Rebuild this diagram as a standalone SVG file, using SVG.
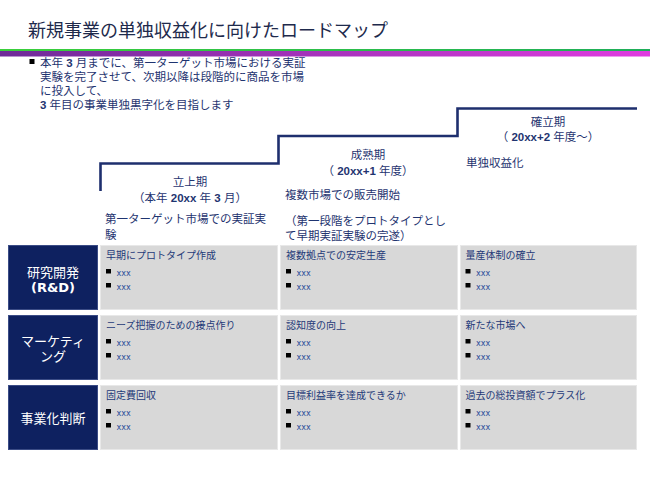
<svg xmlns="http://www.w3.org/2000/svg" width="650" height="487" viewBox="0 0 650 487">
<defs>
<linearGradient id="purp" x1="0" y1="0" x2="1" y2="0">
<stop offset="0" stop-color="#6e2a98"/>
<stop offset="1" stop-color="#e03ce0"/>
</linearGradient>
<linearGradient id="grn" x1="0" y1="0" x2="1" y2="0">
<stop offset="0" stop-color="#3ad03a"/>
<stop offset="1" stop-color="#1fae5a"/>
</linearGradient>
</defs>
<style>
text{font-family:"Liberation Sans","Noto Sans CJK JP",sans-serif;}
.title{font-size:18px;fill:#1e2a4c;}
.body{font-size:11.5px;fill:#1f3470;}
.stage{font-size:11.5px;fill:#1f3470;}
.lbl{fill:#0e2160;stroke:#3b4c86;stroke-width:1;}
.lbt{font-size:13px;fill:#ffffff;text-anchor:middle;}
.rd{font-family:"DejaVu Sans",sans-serif;font-weight:bold;}
.cell{fill:#d8d8d8;stroke:#e8e8e8;stroke-width:1;}
.hd{font-size:10px;fill:#1f3a78;}
.xx{font-size:8px;fill:#2a4d9a;font-family:"DejaVu Sans",sans-serif;}
.sq{fill:#000000;}
.step{fill:none;stroke:#1e2f6e;stroke-width:2.6;}
</style>
<rect width="650" height="487" fill="#ffffff"/>
<g id="header">
<text class="title" x="28" y="37">新規事業の単独収益化に向けたロードマップ</text>
<rect x="0" y="49" width="650" height="2" fill="url(#grn)"/>
<rect x="0" y="51" width="650" height="5.5" fill="url(#purp)"/>
</g>
<g id="summary">
<rect class="sq" x="29.5" y="59" width="5" height="5"/>
<text class="body" x="40" y="67">本年 <tspan font-weight="bold">3</tspan> 月までに、第一ターゲット市場における実証</text>
<text class="body" x="40" y="81">実験を完了させて、次期以降は段階的に商品を市場</text>
<text class="body" x="40" y="95">に投入して、</text>
<text class="body" x="40" y="109"><tspan font-weight="bold">3</tspan> 年目の事業単独黒字化を目指します</text>
</g>
<g id="connectors">
<polyline class="step" points="100.5,191 100.5,163.5 278.5,163.5 278.5,136 457.5,136 457.5,108.5 637,108.5"/>
</g>
<g id="stage1">
<text class="stage" x="190" y="186" text-anchor="middle">立上期</text>
<text class="stage" x="190" y="202" text-anchor="middle">（本年 <tspan font-weight="bold">20xx</tspan> 年 <tspan font-weight="bold">3</tspan> 月）</text>
<text class="stage" x="105" y="223">第一ターゲット市場での実証実</text>
<text class="stage" x="105" y="239">験</text>
</g>
<g id="stage2">
<text class="stage" x="368" y="159" text-anchor="middle">成熟期</text>
<text class="stage" x="368" y="175" text-anchor="middle">（ <tspan font-weight="bold">20xx+1</tspan> 年度）</text>
<text class="stage" x="285" y="199">複数市場での販売開始</text>
<text class="stage" x="285" y="225">（第一段階をプロトタイプとし</text>
<text class="stage" x="285" y="240">て早期実証実験の完遂）</text>
</g>
<g id="stage3">
<text class="stage" x="548" y="126" text-anchor="middle">確立期</text>
<text class="stage" x="548" y="141" text-anchor="middle">（ <tspan font-weight="bold">20xx+2</tspan> 年度～）</text>
<text class="stage" x="466" y="167">単独収益化</text>
</g>
<g id="row-rd">
<rect class="lbl" x="8.5" y="245.5" width="89" height="64"/>
<text class="lbt" x="53" y="276.5">研究開発</text>
<text class="lbt rd" x="53" y="292">(R&amp;D)</text>
</g>
<g id="row-mk">
<rect class="lbl" x="8.5" y="315.5" width="89" height="64"/>
<text class="lbt" x="53" y="346">マーケティ</text>
<text class="lbt" x="53" y="361">ング</text>
</g>
<g id="row-biz">
<rect class="lbl" x="8.5" y="385.5" width="89" height="64"/>
<text class="lbt" x="53" y="423">事業化判断</text>
</g>
<g id="cell-rd-1">
<rect class="cell" x="100.5" y="245.5" width="177" height="64"/>
<text class="hd" x="106" y="259">早期にプロトタイプ作成</text>
<rect class="sq" x="106" y="269" width="5" height="4.5"/><text class="xx" x="116.5" y="276">xxx</text>
<rect class="sq" x="106" y="283" width="5" height="4.5"/><text class="xx" x="116.5" y="290">xxx</text>
</g>
<g id="cell-rd-2">
<rect class="cell" x="280.5" y="245.5" width="177" height="64"/>
<text class="hd" x="286" y="259">複数拠点での安定生産</text>
<rect class="sq" x="286" y="269" width="5" height="4.5"/><text class="xx" x="296.5" y="276">xxx</text>
<rect class="sq" x="286" y="283" width="5" height="4.5"/><text class="xx" x="296.5" y="290">xxx</text>
</g>
<g id="cell-rd-3">
<rect class="cell" x="460.5" y="245.5" width="176" height="64"/>
<text class="hd" x="465.5" y="259">量産体制の確立</text>
<rect class="sq" x="465.5" y="269" width="5" height="4.5"/><text class="xx" x="476" y="276">xxx</text>
<rect class="sq" x="465.5" y="283" width="5" height="4.5"/><text class="xx" x="476" y="290">xxx</text>
</g>
<g id="cell-mk-1">
<rect class="cell" x="100.5" y="315.5" width="177" height="64"/>
<text class="hd" x="106" y="329">ニーズ把握のための接点作り</text>
<rect class="sq" x="106" y="339" width="5" height="4.5"/><text class="xx" x="116.5" y="346">xxx</text>
<rect class="sq" x="106" y="353" width="5" height="4.5"/><text class="xx" x="116.5" y="360">xxx</text>
</g>
<g id="cell-mk-2">
<rect class="cell" x="280.5" y="315.5" width="177" height="64"/>
<text class="hd" x="286" y="329">認知度の向上</text>
<rect class="sq" x="286" y="339" width="5" height="4.5"/><text class="xx" x="296.5" y="346">xxx</text>
<rect class="sq" x="286" y="353" width="5" height="4.5"/><text class="xx" x="296.5" y="360">xxx</text>
</g>
<g id="cell-mk-3">
<rect class="cell" x="460.5" y="315.5" width="176" height="64"/>
<text class="hd" x="465.5" y="329">新たな市場へ</text>
<rect class="sq" x="465.5" y="339" width="5" height="4.5"/><text class="xx" x="476" y="346">xxx</text>
<rect class="sq" x="465.5" y="353" width="5" height="4.5"/><text class="xx" x="476" y="360">xxx</text>
</g>
<g id="cell-biz-1">
<rect class="cell" x="100.5" y="385.5" width="177" height="64"/>
<text class="hd" x="106" y="399">固定費回収</text>
<rect class="sq" x="106" y="409" width="5" height="4.5"/><text class="xx" x="116.5" y="416">xxx</text>
<rect class="sq" x="106" y="423" width="5" height="4.5"/><text class="xx" x="116.5" y="430">xxx</text>
</g>
<g id="cell-biz-2">
<rect class="cell" x="280.5" y="385.5" width="177" height="64"/>
<text class="hd" x="286" y="399">目標利益率を達成できるか</text>
<rect class="sq" x="286" y="409" width="5" height="4.5"/><text class="xx" x="296.5" y="416">xxx</text>
<rect class="sq" x="286" y="423" width="5" height="4.5"/><text class="xx" x="296.5" y="430">xxx</text>
</g>
<g id="cell-biz-3">
<rect class="cell" x="460.5" y="385.5" width="176" height="64"/>
<text class="hd" x="465.5" y="399">過去の総投資額でプラス化</text>
<rect class="sq" x="465.5" y="409" width="5" height="4.5"/><text class="xx" x="476" y="416">xxx</text>
<rect class="sq" x="465.5" y="423" width="5" height="4.5"/><text class="xx" x="476" y="430">xxx</text>
</g>
</svg>
